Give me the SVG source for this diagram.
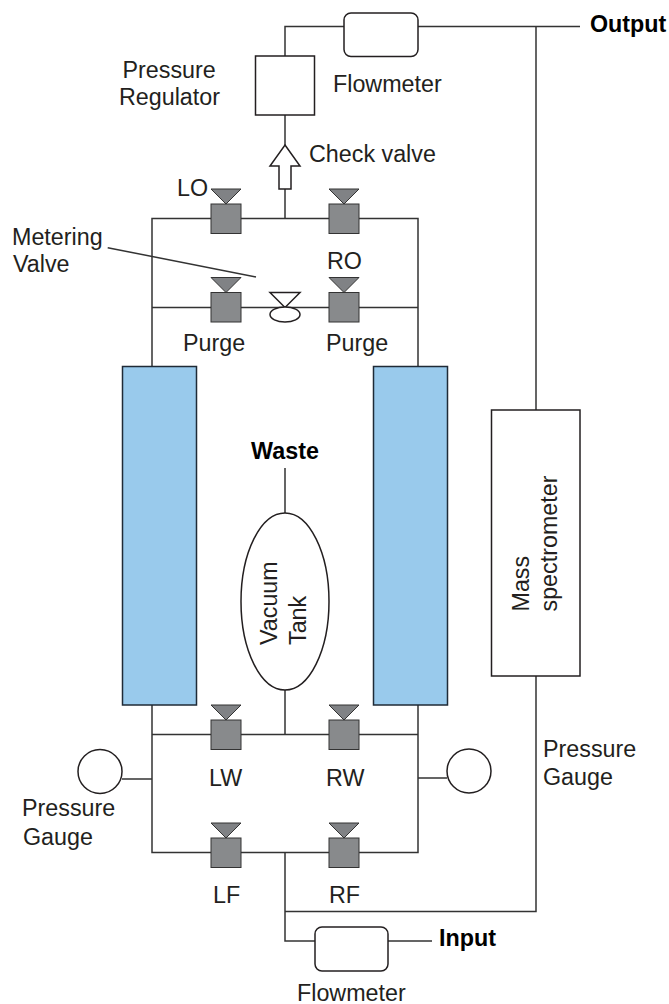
<svg xmlns="http://www.w3.org/2000/svg" width="669" height="1004" viewBox="0 0 669 1004">
<style>
text{font-family:"Liberation Sans",Arial,sans-serif;font-size:23.3px;fill:#231f20}
.b{font-weight:bold;fill:#000}
.w{fill:#fff;stroke:#231f20;stroke-width:1.5}
.col{fill:#99caec;stroke:#1f2a36;stroke-width:1.5}
.c{fill:none;stroke:#333;stroke-width:1.5}
.vb{fill:#888a8c;stroke:#333;stroke-width:1}
.vt{fill:#808285;stroke:#333;stroke-width:1}
</style>
<defs>
<g id="valve-shape">
<polygon class="vt" points="211,189 241,189 226,204"/>
<rect class="vb" x="211" y="204" width="30" height="29.5"/>
</g>
</defs>
<rect width="669" height="1004" fill="#fff"/>
<g id="connectors">
<path class="c" d="M285 56V26.5H344M418 26.5H580M536 26.5V410M536 676V911.5H285M285 115V145M285 189V218.5"/>
<path class="c" d="M152 366V218.5H418V366M152 307.5H418"/>
<path class="c" d="M285 468V513M285 690V734.5M152 705V852.5H418V705M152 734.5H418M122 779H152M418 778H447"/>
<path class="c" d="M285 852.5V941H315M388 941H432"/>
<path class="c" d="M107.700 247.700L256 277"/>
</g>
<g id="flowmeter-top"><rect class="w" x="344" y="13" width="74" height="43.500" rx="7"/><text x="333" y="92">Flowmeter</text></g>
<g id="regulator"><rect class="w" x="255.500" y="56" width="59" height="59"/><text x="122.500" y="78">Pressure</text><text x="119" y="105">Regulator</text></g>
<g id="check-valve"><polygon class="w" points="285,145 300,166 291,166 291,189 279,189 279,166 270,166"/><text x="309" y="162">Check valve</text></g>
<g id="valve-lo"><use href="#valve-shape"/><text x="177" y="196">LO</text></g>
<g id="valve-ro"><use href="#valve-shape" x="118"/><text x="327" y="269">RO</text></g>
<g id="valve-purge-left"><use href="#valve-shape" y="88.500"/><text x="183" y="351">Purge</text></g>
<g id="valve-purge-right"><use href="#valve-shape" x="118" y="88.500"/><text x="326" y="351">Purge</text></g>
<g id="metering-valve"><polygon class="w" points="270,292.500 300,292.500 285,307.500"/><ellipse class="w" cx="285" cy="314.500" rx="15" ry="7.500"/><text x="12" y="245">Metering</text><text x="13" y="272">Valve</text></g>
<g id="column-left"><rect class="col" x="122.500" y="366.500" width="74" height="338.500"/></g>
<g id="column-right"><rect class="col" x="373.500" y="366.500" width="74" height="338.500"/></g>
<g id="waste"><text class="b" x="285" y="459" text-anchor="middle">Waste</text></g>
<g id="vacuum-tank"><ellipse class="w" cx="285" cy="601.500" rx="44" ry="88.500"/><text transform="translate(277 645) rotate(-90)">Vacuum</text><text transform="translate(305.500 645) rotate(-90)">Tank</text></g>
<g id="mass-spectrometer"><rect class="w" x="491.500" y="410" width="88.500" height="266"/><text transform="translate(528.500 611.500) rotate(-90)">Mass</text><text transform="translate(556.500 611.500) rotate(-90)">spectrometer</text></g>
<g id="output"><text class="b" x="590" y="32">Output</text></g>
<g id="valve-lw"><use href="#valve-shape" y="516"/><text x="209" y="786">LW</text></g>
<g id="valve-rw"><use href="#valve-shape" x="118" y="516"/><text x="326" y="786">RW</text></g>
<g id="valve-lf"><use href="#valve-shape" y="634"/><text x="213" y="903">LF</text></g>
<g id="valve-rf"><use href="#valve-shape" x="118" y="634"/><text x="329" y="903">RF</text></g>
<g id="gauge-left"><circle class="w" cx="100" cy="771.500" r="22"/><text x="22" y="816">Pressure</text><text x="23" y="845">Gauge</text></g>
<g id="gauge-right"><circle class="w" cx="469" cy="771" r="22"/><text x="543" y="757">Pressure</text><text x="543" y="785">Gauge</text></g>
<g id="flowmeter-bottom"><rect class="w" x="315" y="927" width="73" height="44" rx="7"/><text x="297" y="1001">Flowmeter</text></g>
<g id="input"><text class="b" x="439" y="946">Input</text></g>
</svg>
